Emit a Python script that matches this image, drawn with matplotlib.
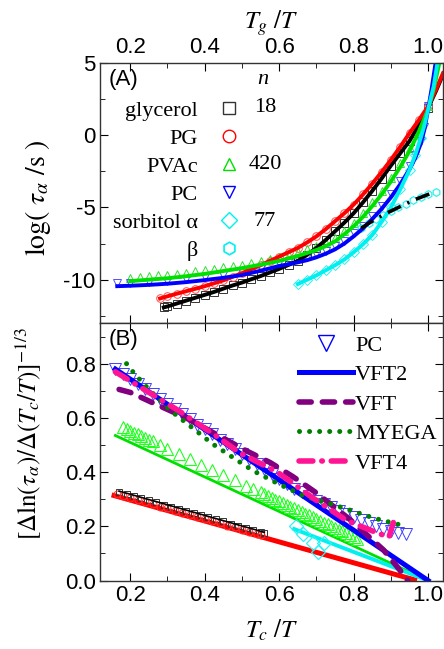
import numpy as np
import matplotlib
matplotlib.use('Agg')
import matplotlib.pyplot as plt
from matplotlib.ticker import MultipleLocator, FormatStrFormatter
from matplotlib.lines import Line2D

plt.rcParams['font.family'] = ['Liberation Sans', 'DejaVu Sans']
plt.rcParams['mathtext.fontset'] = 'stix'
plt.rcParams['axes.unicode_minus'] = False

# ---------------- panel A: log(tau) vs Tg/T ----------------
gly_x = np.array([0.29, 0.30, 0.325, 0.35, 0.375, 0.40, 0.425, 0.45, 0.475, 0.50, 0.525, 0.55, 0.575,
                  0.60, 0.625, 0.65, 0.675, 0.70, 0.725, 0.75, 0.775, 0.80, 0.825, 0.85, 0.875, 0.90,
                  0.925, 0.95, 0.975, 1.0, 1.02, 1.04])
gly_y = np.array([-11.92, -11.85, -11.65, -11.45, -11.25, -11.05, -10.85, -10.62, -10.4, -10.2, -9.97,
                  -9.75, -9.5, -9.25, -8.98, -8.7, -8.28, -7.8, -7.25, -6.65, -6.05, -5.4, -4.65, -3.85,
                  -3.0, -2.1, -1.25, -0.4, 0.7, 1.9, 3.0, 4.2])
pg_x = np.array([0.28, 0.30, 0.325, 0.35, 0.375, 0.40, 0.425, 0.45, 0.475, 0.50, 0.525, 0.55, 0.575,
                 0.60, 0.625, 0.65, 0.675, 0.70, 0.725, 0.75, 0.775, 0.80, 0.825, 0.85, 0.875, 0.90,
                 0.925, 0.95, 0.975, 1.0, 1.02, 1.04])
pg_y = np.array([-11.3, -11.15, -10.97, -10.8, -10.63, -10.45, -10.25, -10.05, -9.8, -9.55, -9.28, -9.0,
                 -8.7, -8.4, -8.1, -7.8, -7.42, -7.0, -6.5, -5.95, -5.4, -4.8, -4.1, -3.35, -2.55, -1.7,
                 -0.8, 0.15, 1.05, 2.0, 3.1, 4.3])
pvac_x = np.array([0.20, 0.225, 0.25, 0.275, 0.30, 0.325, 0.35, 0.375, 0.40, 0.425, 0.45, 0.475, 0.50,
                   0.525, 0.55, 0.575, 0.60, 0.625, 0.65, 0.675, 0.70, 0.725, 0.75, 0.775, 0.80, 0.825,
                   0.85, 0.875, 0.90, 0.925, 0.95, 0.975, 1.0, 1.015, 1.03])
pvac_y = np.array([-10.1, -10.05, -10.0, -9.95, -9.9, -9.83, -9.76, -9.68, -9.6, -9.5, -9.4, -9.3, -9.2,
                   -9.08, -8.96, -8.84, -8.7, -8.53, -8.35, -8.15, -7.95, -7.68, -7.35, -6.85, -6.3,
                   -5.65, -4.9, -4.1, -3.2, -2.2, -1.1, 0.25, 1.8, 3.2, 5.0])
pc_x = np.array([0.165, 0.20, 0.25, 0.30, 0.35, 0.40, 0.45, 0.50, 0.55, 0.60, 0.625, 0.65, 0.675, 0.70,
                 0.725, 0.75, 0.775, 0.80, 0.825, 0.85, 0.875, 0.90, 0.925, 0.95, 0.965, 0.98, 0.99,
                 1.0, 1.01, 1.02])
pc_y = np.array([-10.45, -10.42, -10.36, -10.28, -10.17, -10.03, -9.87, -9.68, -9.38, -9.05, -8.93, -8.8,
                 -8.65, -8.45, -8.2, -7.9, -7.5, -7.0, -6.45, -5.8, -5.1, -4.3, -3.4, -2.35, -1.6, -0.6,
                 0.4, 1.8, 3.3, 5.0])
sorb_x = np.array([0.65, 0.675, 0.70, 0.725, 0.75, 0.775, 0.80, 0.825, 0.85, 0.875, 0.90, 0.925, 0.95,
                   0.965, 0.98, 0.99, 1.0, 1.015, 1.025])
sorb_y = np.array([-10.3, -10.0, -9.7, -9.35, -9.0, -8.6, -8.1, -7.55, -6.9, -6.0, -5.0, -3.75, -2.4,
                   -1.4, -0.2, 0.7, 1.8, 3.4, 5.0])
beta_x = np.array([0.82, 0.84, 0.86, 0.88, 0.90, 0.92, 0.94, 0.96, 0.98, 1.00, 1.02])
beta_y = np.array([-6.45, -6.1, -5.8, -5.5, -5.25, -5.0, -4.75, -4.5, -4.3, -4.1, -3.9])

names_A = ['glycerol', 'PG', 'PVAc', 'PC', 'sorbitol \u03b1', '\u03b2']
n_values = ['18', '', '420', '', '77', '']

# ---------------- panel B: derivative analysis vs Tc/T ----------------
glyB_x = [0.17, 0.19, 0.21, 0.23, 0.25, 0.27, 0.29, 0.31, 0.33, 0.35, 0.37, 0.39, 0.41, 0.43, 0.45,
          0.47, 0.49, 0.51, 0.53, 0.55, 0.56]
glyB_y = [0.327, 0.319, 0.311, 0.304, 0.296, 0.288, 0.28, 0.272, 0.265, 0.257, 0.249, 0.241, 0.233,
          0.226, 0.218, 0.21, 0.202, 0.194, 0.187, 0.179, 0.175]
pgB_x = [0.165, 0.18, 0.20, 0.22, 0.24, 0.26, 0.28, 0.30, 0.32, 0.34, 0.36, 0.38, 0.40, 0.42, 0.44,
         0.46, 0.48, 0.50, 0.52, 0.54, 0.55]
pgB_y = [0.318, 0.312, 0.305, 0.297, 0.289, 0.281, 0.273, 0.266, 0.258, 0.25, 0.242, 0.234, 0.227,
         0.219, 0.211, 0.203, 0.196, 0.188, 0.18, 0.172, 0.168]
pvacB_x = [0.18, 0.19, 0.20, 0.21, 0.22, 0.23, 0.24, 0.25, 0.26, 0.28, 0.30, 0.33, 0.36, 0.39, 0.42,
           0.45, 0.48, 0.51, 0.53, 0.55, 0.56, 0.57, 0.58, 0.59, 0.60, 0.61, 0.62, 0.63, 0.64, 0.65,
           0.66, 0.67, 0.68, 0.69, 0.70, 0.71, 0.72, 0.73, 0.74, 0.75, 0.76, 0.77, 0.78, 0.79, 0.80,
           0.81]
pvacB_y = [0.565, 0.558, 0.552, 0.545, 0.539, 0.532, 0.526, 0.52, 0.513, 0.5, 0.487, 0.467, 0.448,
           0.428, 0.409, 0.39, 0.37, 0.35, 0.337, 0.325, 0.318, 0.311, 0.305, 0.298, 0.292, 0.285,
           0.279, 0.272, 0.266, 0.26, 0.253, 0.246, 0.24, 0.233, 0.227, 0.22, 0.214, 0.207, 0.201,
           0.194, 0.188, 0.181, 0.175, 0.168, 0.162, 0.155]
pcB_x = [0.16, 0.18, 0.20, 0.22, 0.24, 0.26, 0.28, 0.30, 0.32, 0.34, 0.36, 0.38, 0.40, 0.42, 0.44,
         0.46, 0.48, 0.50, 0.52, 0.54, 0.56, 0.58, 0.60, 0.62, 0.64, 0.66, 0.68, 0.70, 0.72, 0.74,
         0.76, 0.78, 0.80, 0.82, 0.84, 0.86, 0.88, 0.90, 0.92, 0.94]
pcB_y = [0.78, 0.763, 0.745, 0.725, 0.705, 0.688, 0.668, 0.65, 0.632, 0.613, 0.595, 0.575, 0.558,
         0.54, 0.52, 0.502, 0.485, 0.466, 0.448, 0.43, 0.41, 0.392, 0.374, 0.356, 0.338, 0.325,
         0.31, 0.295, 0.282, 0.27, 0.258, 0.247, 0.236, 0.225, 0.213, 0.201, 0.191, 0.183, 0.177,
         0.173]
sorbB_x = [0.645, 0.665, 0.69, 0.705, 0.72]
sorbB_y = [0.20, 0.17, 0.14, 0.105, 0.14]

# fit lines in panel B
glyB_fit_x, glyB_fit_y = [0.17, 0.56], [0.33, 0.178]
pgB_fit_x, pgB_fit_y = [0.15, 0.97], [0.316, 0.0]
pvacB_fit_x, pvacB_fit_y = [0.16, 1.0], [0.535, 0.0]
sorbB_fit_x, sorbB_fit_y = [0.64, 1.0], [0.19, 0.0]
vft2_x, vft2_y = [0.16, 1.0], [0.78, 0.0]
vft_x = [0.17, 0.20, 0.26, 0.35, 0.43, 0.514, 0.576, 0.637, 0.70, 0.79, 0.88, 0.935, 0.945]
vft_y = [0.705, 0.694, 0.656, 0.60, 0.54, 0.477, 0.435, 0.383, 0.323, 0.225, 0.113, 0.02, 0.0]
myega_x = [0.19, 0.21, 0.25, 0.31, 0.37, 0.42, 0.48, 0.53, 0.60, 0.67, 0.745, 0.80, 0.855, 0.94]
myega_y = [0.80, 0.765, 0.705, 0.625, 0.56, 0.505, 0.45, 0.405, 0.355, 0.31, 0.28, 0.255, 0.23, 0.20]
vft4_x = [0.16, 0.326, 0.434, 0.495, 0.595, 0.69, 0.78, 0.863, 0.895, 0.91]
vft4_y = [0.77, 0.63, 0.53, 0.47, 0.40, 0.305, 0.222, 0.176, 0.16, 0.23]

serif = ['Liberation Serif', 'DejaVu Serif']

fig = plt.figure(figsize=(4.44, 6.49), dpi=100)
axA = fig.add_axes([0.2263, 0.5023, 0.7715, 0.4006])
axB = fig.add_axes([0.2263, 0.1055, 0.7715, 0.3968])

# panel A
ms = 5.5
axA.plot(gly_x[gly_x <= 1.0], gly_y[gly_x <= 1.0], 's', mfc='none', mec='#333333', ms=ms, mew=0.7)
axA.plot(pg_x[pg_x <= 1.0], pg_y[pg_x <= 1.0], 'o', mfc='none', mec='#ff5050', ms=ms, mew=0.7)
axA.plot(pvac_x[pvac_x <= 1.0], pvac_y[pvac_x <= 1.0] + 0.25, '^', mfc='none', mec='#30e030', ms=ms, mew=0.7)
axA.plot(pc_x[pc_x <= 1.0], pc_y[pc_x <= 1.0] + 0.2, 'v', mfc='none', mec='#5050ff', ms=ms, mew=0.7)
axA.plot(sorb_x[sorb_x <= 0.98], sorb_y[sorb_x <= 0.98], 'D', mfc='none', mec='#30f0f0', ms=ms, mew=0.7)
axA.plot(beta_x, beta_y, 'h', mfc='none', mec='#30f0f0', ms=ms, mew=0.9)

axA.plot(gly_x, gly_y, '-', color='black', lw=2.8)
axA.plot(pg_x, pg_y, '-', color='red', lw=2.8)
axA.plot(pvac_x, pvac_y, '-', color='#00e000', lw=2.8)
axA.plot(pc_x, pc_y, '-', color='#0000ff', lw=2.8)
axA.plot(sorb_x, sorb_y, '-', color='#00f0f0', lw=2.8)
axA.plot(beta_x, beta_y, color='black', lw=2.6, linestyle=(0, (4, 2, 0.6, 2)))

handlesA = [
    Line2D([], [], ls='none', marker='s', mfc='none', mec='#333333', ms=8, mew=1.0),
    Line2D([], [], ls='none', marker='o', mfc='none', mec='red', ms=9, mew=1.0),
    Line2D([], [], ls='none', marker='^', mfc='none', mec='#00e000', ms=9, mew=1.0),
    Line2D([], [], ls='none', marker='v', mfc='none', mec='#0000ff', ms=9, mew=1.0),
    Line2D([], [], ls='none', marker='D', mfc='none', mec='#00f0f0', ms=8, mew=1.0),
    Line2D([], [], ls='none', marker='h', mfc='none', mec='#00f0f0', ms=9, mew=1.2),
]
legA = axA.legend(handlesA, names_A, loc='upper left', bbox_to_anchor=(0.01, 0.892),
                  markerfirst=False, frameon=False, handlelength=1.0, handletextpad=0.9,
                  labelspacing=0.34, borderaxespad=0, prop={'family': serif, 'size': 16})
axA.text(0.475, 0.935, 'n', transform=axA.transAxes, ha='center', va='center',
         fontsize=16, family=serif, style='italic')
rows_A = [0.827, 0.719, 0.6115, 0.504, 0.392, 0.285]
for yy, nv in zip(rows_A, n_values):
    axA.text(0.48, yy, nv, transform=axA.transAxes, ha='center', va='center',
             fontsize=16, family=serif)
axA.text(0.025, 0.935, '(A)', transform=axA.transAxes, ha='left', va='center', fontsize=16)

axA.set_xlim(0.12, 1.04)
axA.set_ylim(-13, 5)
axA.xaxis.set_major_locator(MultipleLocator(0.2))
axA.xaxis.set_minor_locator(MultipleLocator(0.1))
axA.yaxis.set_major_locator(MultipleLocator(5))
axA.yaxis.set_minor_locator(MultipleLocator(2.5))
axA.xaxis.set_major_formatter(FormatStrFormatter('%.1f'))
axA.tick_params(which='both', direction='in', top=True, right=True, labeltop=True,
                labelbottom=False, labelsize=16)
axA.tick_params(which='major', length=6)
axA.tick_params(which='minor', length=3.5)
axA.set_xlabel(r'$T_g\ /T$', fontsize=18, labelpad=6)
axA.xaxis.set_label_position('top')
axA.set_ylabel(r'$\log(\ \tau_\alpha\ /\mathrm{s}\ )$', fontsize=20)
axA.yaxis.set_label_coords(-0.14, 0.48)

# panel B
axB.plot(pgB_fit_x, pgB_fit_y, '-', color='red', lw=3.6, solid_capstyle='butt')
axB.plot(pvacB_fit_x, pvacB_fit_y, '-', color='#00e000', lw=2.0)
axB.plot(sorbB_fit_x, sorbB_fit_y, '-', color='#00f0f0', lw=2.8)
axB.plot(glyB_x, glyB_y, 's', mfc='none', mec='#333333', ms=4.5, mew=0.7)
axB.plot(pgB_x, pgB_y, 'o', mfc='none', mec='#ff3030', ms=5, mew=0.7)
axB.plot(glyB_fit_x, glyB_fit_y, '-', color='black', lw=1.2)
axB.plot(pvacB_x, pvacB_y, '^', mfc='none', mec='#20ff20', ms=9, mew=0.8)
axB.plot(sorbB_x, sorbB_y, 'D', mfc='none', mec='#30f0f0', ms=7, mew=0.9)
axB.plot(pcB_x, pcB_y, 'v', mfc='none', mec='#4040ff', ms=8, mew=0.7)
axB.plot(vft2_x, vft2_y, '-', color='#0000ff', lw=3.6, label='VFT2')
axB.plot(vft_x, vft_y, color='#800080', lw=4, linestyle=(0, (2.2, 2.0)),
         dash_capstyle='round', label='VFT')
axB.plot(myega_x, myega_y, color='#008000', lw=3.6, linestyle=(0, (0.01, 2.0)),
         dash_capstyle='round', label='MYEGA')
axB.plot(vft4_x, vft4_y, color='#ff1493', lw=4, linestyle=(0, (2.5, 1.6, 0.1, 1.6)),
         dash_capstyle='round', label='VFT4')

pc_handle = Line2D([], [], ls='none', marker='v', mfc='none', mec='#0000ff', ms=12, mew=1.0)
hB, lB = axB.get_legend_handles_labels()
legB = axB.legend([pc_handle] + hB, ['PC'] + lB, loc='upper left', bbox_to_anchor=(0.545, 1.0),
                  frameon=False, handlelength=2.4, handletextpad=0.1, labelspacing=0.4,
                  borderaxespad=0.15, prop={'family': serif, 'size': 16})
axB.text(0.025, 0.935, '(B)', transform=axB.transAxes, ha='left', va='center', fontsize=16)

axB.set_xlim(0.12, 1.04)
axB.set_ylim(0, 0.95)
axB.xaxis.set_major_locator(MultipleLocator(0.2))
axB.xaxis.set_minor_locator(MultipleLocator(0.1))
axB.yaxis.set_major_locator(MultipleLocator(0.2))
axB.yaxis.set_minor_locator(MultipleLocator(0.1))
axB.xaxis.set_major_formatter(FormatStrFormatter('%.1f'))
axB.yaxis.set_major_formatter(FormatStrFormatter('%.1f'))
axB.tick_params(which='both', direction='in', top=True, right=True, labelsize=16)
axB.tick_params(which='major', length=6)
axB.tick_params(which='minor', length=3.5)
axB.set_xlabel(r'$T_c\ /T$', fontsize=18, labelpad=8)
axB.set_ylabel(r'$[\Delta\ln(\tau_\alpha)/\Delta(T_c/T)]^{-1/3}$', fontsize=18)
axB.yaxis.set_label_coords(-0.165, 0.57)

for ax in (axA, axB):
    for sp in ax.spines.values():
        sp.set_color('#333333')
        sp.set_linewidth(1.0)

fig.savefig('out.png', dpi=100)
